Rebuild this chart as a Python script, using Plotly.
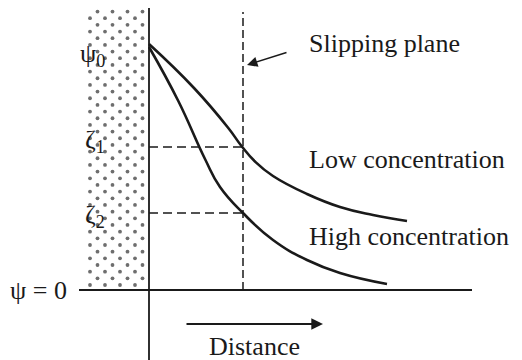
import plotly.graph_objects as go

# ---- data (distance from wall, potential) ----
distance_low = [0.0, 0.45, 0.793, 0.927, 1.06, 1.24, 1.58, 1.91, 2.24, 2.58]
potential_low = [2.46, 2.02, 1.62, 1.437, 1.285, 1.14, 0.96, 0.83, 0.75, 0.69]

distance_high = [0.0, 0.293, 0.56, 0.71, 0.94, 1.24, 1.58, 1.91, 2.38]
potential_high = [2.43, 1.89, 1.31, 1.03, 0.77, 0.50, 0.30, 0.17, 0.06]

slip_plane = 0.94
zeta_values = [1.43, 0.77]
zeta_labels = ["ζ<sub>1</sub>", "ζ<sub>2</sub>"]
psi0_label = "ψ<sub>0</sub>"
psi_zero_label = "ψ = 0"
curve_labels = ["Low concentration", "High concentration"]
slip_label = "Slipping plane"
distance_label = "Distance"

# frame extents (page body has an 8px margin, so the figure starts at 8,8)
x_range = [-1.41, 3.73]
y_range = [-0.70, 2.82]
h_axis = [-0.70, 3.23]
v_axis = [-0.70, 2.90]

FONT = "Liberation Serif, Times New Roman, serif"
INK = "#1a1a1a"

fig = go.Figure()

# dotted wall texture (staggered grid)
dx = 0.15
dy = 0.0667
xs, ys = [], []
row = 0
yy = 0.05
while yy < 2.92:
    off = 0.0 if row % 2 == 0 else dx / 2
    xx = -0.59 + off
    while xx < -0.05:
        xs.append(xx)
        ys.append(yy)
        xx += dx
    yy += dy
    row += 1
fig.add_trace(go.Scatter(x=xs, y=ys, mode="markers",
                         marker=dict(size=3.8, color="#6e6e6e"),
                         hoverinfo="skip", showlegend=False))

# axes
fig.add_trace(go.Scatter(x=h_axis, y=[0, 0], mode="lines",
                         line=dict(color=INK, width=1.8), showlegend=False))
fig.add_trace(go.Scatter(x=[0, 0], y=v_axis, mode="lines",
                         line=dict(color=INK, width=1.8), showlegend=False))

# slipping plane (dashed vertical)
fig.add_trace(go.Scatter(x=[slip_plane, slip_plane], y=[0, 2.78], mode="lines",
                         line=dict(color=INK, width=1.5, dash="8px,4px"), showlegend=False))
# zeta dashed horizontals
for z in zeta_values:
    fig.add_trace(go.Scatter(x=[0, slip_plane], y=[z, z], mode="lines",
                             line=dict(color=INK, width=1.5, dash="9px,5px"), showlegend=False))

# curves
fig.add_trace(go.Scatter(x=distance_low, y=potential_low, mode="lines",
                         line=dict(color=INK, width=2.6, shape="spline", smoothing=1.3),
                         showlegend=False))
fig.add_trace(go.Scatter(x=distance_high, y=potential_high, mode="lines",
                         line=dict(color=INK, width=2.6, shape="spline", smoothing=1.3),
                         showlegend=False))

ann = []
tf = dict(family=FONT, size=26, color=INK)
ann.append(dict(x=-0.42, y=2.35, text=psi0_label, xanchor="right", yanchor="middle",
                showarrow=False, font=tf))
ann.append(dict(x=-0.42, y=1.49, text=zeta_labels[0], xanchor="right", yanchor="middle",
                showarrow=False, font=tf))
ann.append(dict(x=-0.42, y=0.74, text=zeta_labels[1], xanchor="right", yanchor="middle",
                showarrow=False, font=tf))
ann.append(dict(x=-0.80, y=0.0, text=psi_zero_label, xanchor="right", yanchor="middle",
                showarrow=False, font=tf))
ann.append(dict(x=1.58, y=1.31, text=curve_labels[0], xanchor="left", yanchor="middle",
                showarrow=False, font=tf))
ann.append(dict(x=1.58, y=0.54, text=curve_labels[1], xanchor="left", yanchor="middle",
                showarrow=False, font=tf))
ann.append(dict(x=1.58, y=2.47, text=slip_label, xanchor="left", yanchor="middle",
                showarrow=False, font=tf))
ann.append(dict(x=1.055, y=-0.56, text=distance_label, xanchor="center", yanchor="middle",
                showarrow=False, font=tf))
# slipping plane arrow
ann.append(dict(x=0.98, y=2.25, ax=1.39, ay=2.38, xref="x", yref="y", axref="x", ayref="y",
                text="", showarrow=True, arrowhead=2, arrowsize=1.3, arrowwidth=1.6,
                arrowcolor=INK))
# distance arrow
ann.append(dict(x=1.74, y=-0.34, ax=0.36, ay=-0.34, xref="x", yref="y", axref="x", ayref="y",
                text="", showarrow=True, arrowhead=2, arrowsize=1.3, arrowwidth=1.8,
                arrowcolor=INK))

fig.update_layout(
    width=514, height=352,
    margin=dict(l=0, r=0, t=0, b=0),
    paper_bgcolor="white", plot_bgcolor="white",
    xaxis=dict(range=x_range, visible=False, fixedrange=True),
    yaxis=dict(range=y_range, visible=False, fixedrange=True),
    annotations=ann,
    showlegend=False,
)

fig.write_html("out.html")
